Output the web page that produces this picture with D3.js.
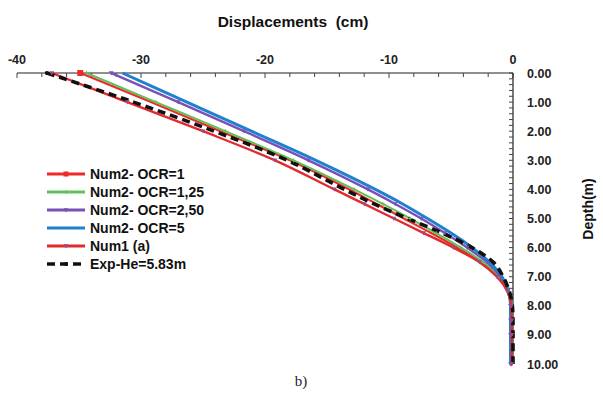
<!DOCTYPE html>
<html>
<head>
<meta charset="utf-8">
<script src="https://cdn.jsdelivr.net/npm/d3@7"></script>
<style>
  body { margin: 0; background: #fff; }
  svg { display: block; font-family: "Liberation Sans", Arial, sans-serif; }
</style>
</head>
<body>
<div class="canvas"></div>
<script>
// depths (m) shared by every series
const depths = [0, 1, 2, 3, 4, 4.5, 5, 5.5, 6, 6.5, 7, 7.5, 8, 8.5, 9, 10];

// displacements (cm)
const num2Ocr1   = [-34.9, -29.2, -23.6, -18.0, -13.2, -11.0, -8.8, -6.6, -4.5, -2.6, -1.2, -0.45, -0.15, -0.15, -0.15, -0.15];
const num2Ocr125 = [-34.4, -28.8, -23.2, -17.7, -12.8, -10.5, -8.3, -6.2, -4.2, -2.4, -1.1, -0.4, -0.15, -0.15, -0.15, -0.15];
const num2Ocr250 = [-32.4, -27.0, -21.7, -16.5, -11.7, -9.5, -7.4, -5.5, -3.7, -2.1, -1.0, -0.4, -0.2, -0.2, -0.2, -0.2];
const num2Ocr5   = [-31.5, -26.3, -21.1, -15.9, -11.1, -8.9, -6.9, -5.0, -3.3, -1.9, -0.9, -0.35, -0.2, -0.2, -0.2, -0.2];
const num1a      = [-37.2, -31.1, -25.0, -19.2, -14.4, -12.0, -9.6, -7.2, -4.8, -2.7, -1.3, -0.45, -0.15, -0.1, -0.1, -0.1];
const expHe      = [-37.6, -30.6, -24.1, -18.2, -13.6, -11.2, -8.5, -5.7, -3.3, -1.6, -0.8, -0.3, -0.05, 0, 0, 0];

const seriesNames = ['Num2- OCR=1', 'Num2- OCR=1,25', 'Num2- OCR=2,50', 'Num2- OCR=5', 'Num1 (a)', 'Exp-He=5.83m'];

const xTicks = [-40, -30, -20, -10, 0];
const yTicks = [0, 1, 2, 3, 4, 5, 6, 7, 8, 9, 10];

const series = [
  { name: seriesNames[0], values: num2Ocr1,   color: '#ee2a2a', width: 2.2, marker: 'square',   mcolor: '#ee2a2a' },
  { name: seriesNames[1], values: num2Ocr125, color: '#62c05a', width: 2,   marker: 'cross',    mcolor: '#62c05a' },
  { name: seriesNames[2], values: num2Ocr250, color: '#7a4fb8', width: 2.4, marker: 'triangle', mcolor: '#7a4fb8' },
  { name: seriesNames[3], values: num2Ocr5,   color: '#1f80d0', width: 3,   marker: null,       mcolor: '#1f80d0' },
  { name: seriesNames[4], values: num1a,      color: '#e02a2e', width: 2.4, marker: 'triangle', mcolor: '#9a4a8a' },
  { name: seriesNames[5], values: expHe,      color: '#111',    width: 3.6, marker: 'circle',   mcolor: '#111', dash: '8,5' }
];

const W = 603, H = 401;
const svg = d3.select('.canvas')
  .append('svg')
    .attr('width', W)
    .attr('height', H);

const x = d3.scaleLinear()
  .domain([-40, 0])
  .range([17, 513]);

const y = d3.scaleLinear()
  .domain([0, 10])
  .range([73, 364]);

// x axis on top, ticks pointing into the plot
const xAxis = svg.append('g')
  .attr('transform', 'translate(0,73)');
xAxis.append('line')
  .attr('x1', x(-40)).attr('x2', x(0))
  .attr('stroke', '#222').attr('stroke-width', 1.2);
xAxis.selectAll('.minor')
  .data(d3.range(-40, 0.01, 2))
  .enter().append('line')
    .attr('x1', d => x(d)).attr('x2', d => x(d))
    .attr('y1', 0).attr('y2', d => d % 10 === 0 ? 5 : 4)
    .attr('stroke', '#444').attr('stroke-width', 1);
xAxis.selectAll('text')
  .data(xTicks)
  .enter().append('text')
    .attr('x', d => x(d))
    .attr('y', -9)
    .attr('text-anchor', 'middle')
    .attr('font-size', 12.5)
    .attr('font-weight', 'bold')
    .attr('fill', '#222')
    .text(d => d);

// y axis on the right
const yAxis = svg.append('g')
  .attr('transform', 'translate(513,0)');
yAxis.append('line')
  .attr('y1', y(0)).attr('y2', y(10))
  .attr('stroke', '#222').attr('stroke-width', 1.2);
yAxis.selectAll('.minor')
  .data(d3.range(0, 10.001, 0.2))
  .enter().append('line')
    .attr('y1', d => y(d)).attr('y2', d => y(d))
    .attr('x1', -4).attr('x2', 0)
    .attr('stroke', '#444').attr('stroke-width', 1);
yAxis.selectAll('text')
  .data(yTicks)
  .enter().append('text')
    .attr('x', 14)
    .attr('y', d => y(d) + 4.5)
    .attr('font-size', 12.5)
    .attr('font-weight', 'bold')
    .attr('fill', '#222')
    .text(d => d.toFixed(2));

// titles
svg.append('text')
  .attr('x', 293).attr('y', 27)
  .attr('text-anchor', 'middle')
  .attr('font-size', 15.5)
  .attr('font-weight', 'bold')
  .attr('fill', '#111')
  .attr('xml:space', 'preserve')
  .text('Displacements  (cm)');

svg.append('text')
  .attr('transform', 'translate(593,209) rotate(-90)')
  .attr('text-anchor', 'middle')
  .attr('font-size', 14)
  .attr('font-weight', 'bold')
  .attr('fill', '#111')
  .text('Depth(m)');

svg.append('text')
  .attr('x', 301).attr('y', 386)
  .attr('text-anchor', 'middle')
  .attr('font-family', '"Liberation Serif", "Times New Roman", serif')
  .attr('font-size', 15)
  .attr('fill', '#222')
  .text('b)');

// curves
const line = d3.line()
  .x(d => x(d[1]))
  .y(d => y(d[0]))
  .curve(d3.curveMonotoneY);

function drawMarker(g, type, cx, cy, color, s) {
  if (type === 'square') {
    g.append('rect').attr('x', cx - s / 2).attr('y', cy - s / 2)
      .attr('width', s).attr('height', s).attr('fill', color);
  } else if (type === 'triangle') {
    g.append('path')
      .attr('d', `M${cx},${cy + s * 0.6}L${cx - s * 0.6},${cy - s * 0.45}L${cx + s * 0.6},${cy - s * 0.45}Z`)
      .attr('fill', color);
  } else if (type === 'cross') {
    g.append('path')
      .attr('d', `M${cx - s / 2},${cy}H${cx + s / 2}M${cx},${cy - s / 2}V${cy + s / 2}`)
      .attr('stroke', color).attr('stroke-width', 1);
  } else if (type === 'circle') {
    g.append('circle').attr('cx', cx).attr('cy', cy).attr('r', s / 2).attr('fill', color);
  }
}

const plot = svg.append('g');
series.forEach(s => {
  const pts = depths.map((d, i) => [d, s.values[i]]);
  plot.append('path')
    .datum(pts)
    .attr('d', line)
    .attr('fill', 'none')
    .attr('stroke', s.color)
    .attr('stroke-width', s.width)
    .attr('stroke-dasharray', s.dash || null);
});
series.forEach(s => {
  if (!s.marker) return;
  const g = plot.append('g');
  depths.forEach((d, i) => {
    if ((s.marker === 'circle' || s.marker === 'square') && i > 0) return;
    drawMarker(g, s.marker, x(s.values[i]), y(d), s.mcolor, s.marker === 'square' ? 6 : 4);
  });
});

// legend
const legend = svg.append('g');
series.forEach((s, i) => {
  const ly = 174 + i * 18;
  legend.append('line')
    .attr('x1', 47).attr('x2', 85)
    .attr('y1', ly).attr('y2', ly)
    .attr('stroke', s.color)
    .attr('stroke-width', s.dash ? 3.6 : 3)
    .attr('stroke-dasharray', s.dash || null);
  if (s.marker) drawMarker(legend, s.marker, 66, ly, s.mcolor, s.marker === 'square' ? 5 : 4);
  legend.append('text')
    .attr('x', 90).attr('y', ly + 5)
    .attr('font-size', 14)
    .attr('font-weight', 'bold')
    .attr('fill', '#111')
    .text(s.name);
});
</script>
</body>
</html>
